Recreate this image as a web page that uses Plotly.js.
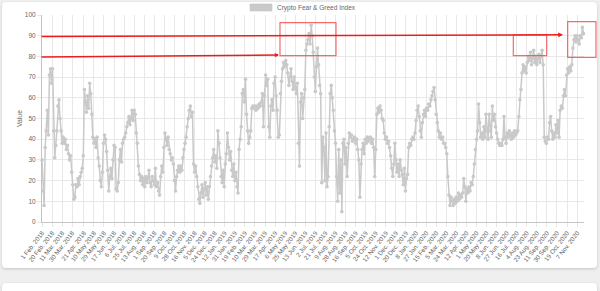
<!DOCTYPE html>
<html>
<head>
<meta charset="utf-8">
<script src="https://cdn.plot.ly/plotly-3.0.1.min.js"></script>
<style>
  html, body { margin:0; padding:0; width:600px; height:291px; overflow:hidden; background:#efefef; }
  .card { position:absolute; left:2px; width:595px; background:#fff; border-radius:4px;
          box-shadow:0 1px 3px rgba(0,0,0,0.18); }
  #card1 { top:2px; height:266px; }
  #card2 { top:283px; height:30px; }
  #chart { position:absolute; left:0; top:0; width:600px; height:291px; }
</style>
</head>
<body>
<div class="card" id="card1"></div>
<div class="card" id="card2"></div>
<div id="chart"></div>
<script>
// ---- data (one reading every 2 days) ----
const seriesName = 'Crypto Fear & Greed Index';
const STEP_DAYS = 2;

const start2018 = '2018-02-01';
const values2018 = [
  30,15,8,36,44,54,42,71,74,67,
  74,44,31,37,44,56,59,50,44,38,
  41,38,40,35,37,33,30,32,24,18,
  11,12,18,17,21,18,22,24,26,32,
  64,58,53,61,55,67,62,52,41,38,
  40,36,41,31,27,20,17,24,38,42,
  40,34,25,15,22,26,21,30,37,36,
  16,15,19,30,35,29,38,40,41,43,
  46,48,51,47,50,54,49,54,52,43,
  38,27,23,20,22,18,21,17,22,19,
  21,25,19,17,22,20,18,26,17,19,
  15,13,22,27,24,36,43,40,37,41,
  35,33,30,31,28,20,15,22,25,27,
  24,27,25,31,35,38,41,46,50,54,
  56,51,53,28,24,27,22,17,11,9,
  14,18,12,16,19,13,17,11,17,22,
  27,31,35,29,32,26,44
];

const start2019 = '2019-01-01';
const values2019 = [
  38,31,22,
  19,25,17,28,33,43,36,30,34,25,
  22,28,20,24,17,14,35,40,46,62,
  64,58,69,52,44,38,41,44,55,56,
  55,56,54,56,55,57,56,58,62,46,
  61,71,66,69,46,41,56,59,54,67,
  70,61,54,41,42,62,68,74,77,75,
  78,76,72,66,70,74,68,64,70,65,
  62,67,38,27,58,62,50,60,64,83,
  86,88,91,86,95,90,82,70,63,75,
  84,76,66,62,19,41,36,20,43,17,
  22,46,62,66,60,54,44,38,22,10,
  35,14,30,5,38,40,28,36,22,38,
  43,41,42,39,40,41,38,40,35,30,
  12,28,35,38,33,40,38,41,39,40,
  41,38,40,36,22,35,52,55,53,56,
  54,50,49,43,40,41,38,39,36,32,
  26,22,28,38,30,24,28,22,30,25,
  23,18,26,15,21,23,36,38,37,40
];

const start2020 = '2020-01-02';
const values2020 = [
  41,40,43,49,54,56,51,44,41,48,
  52,54,51,55,54,57,56,59,61,63,
  65,59,52,48,44,41,43,40,41,38,
  38,36,33,22,13,8,12,10,8,11,
  9,12,10,14,11,13,12,14,21,17,
  10,16,14,17,15,19,18,22,28,35,
  40,44,57,48,41,43,40,46,41,52,
  44,40,52,44,41,56,49,52,46,43,
  40,38,37,38,37,40,51,41,38,43,
  41,44,42,40,43,41,44,42,43,44,
  51,59,64,72,76,73,75,72,77,80,
  78,82,76,79,83,77,80,76,79,81,
  77,80,83,76,41,39,38,41,40,48,
  51,44,40,43,41,47,43,49,41,54,
  56,55,61,64,61,71,74,72,75,73,
  76,84,88,90,87,90,88,86,90,89,
  94,91
];

const tickDates = [
  '2018-02-01','2018-02-20','2018-03-11','2018-03-30','2018-04-21','2018-05-10','2018-05-29',
  '2018-06-17','2018-07-06','2018-07-25','2018-08-13','2018-09-01','2018-09-20','2018-10-09',
  '2018-10-28','2018-11-16','2018-12-05','2018-12-24','2019-01-12','2019-01-31','2019-02-19',
  '2019-03-10','2019-03-29','2019-04-17','2019-05-06','2019-05-25','2019-06-13','2019-07-02',
  '2019-07-21','2019-08-09','2019-08-28','2019-09-16','2019-10-05','2019-10-24','2019-11-12',
  '2019-12-01','2019-12-20','2020-01-08','2020-01-27','2020-02-15','2020-03-05','2020-03-24',
  '2020-04-12','2020-05-01','2020-05-20','2020-06-08','2020-06-27','2020-07-16','2020-08-04',
  '2020-08-23','2020-09-11','2020-09-30','2020-10-19','2020-11-07'
];
const tickLabels = [
  '1 Feb. 2018','20 Feb. 2018','11 Mar. 2018','30 Mar. 2018','21 Apr. 2018','10 May 2018','29 May 2018',
  '17 Jun. 2018','6 Jul. 2018','25 Jul. 2018','13 Aug. 2018','1 Sep. 2018','20 Sep. 2018','9 Oct. 2018',
  '28 Oct. 2018','16 Nov. 2018','5 Dec. 2018','24 Dec. 2018','12 Jan. 2019','31 Jan. 2019','19 Feb. 2019',
  '10 Mar. 2019','29 Mar. 2019','17 Apr. 2019','6 May 2019','25 May 2019','13 Jun. 2019','2 Jul. 2019',
  '21 Jul. 2019','9 Aug. 2019','28 Aug. 2019','16 Sep. 2019','5 Oct. 2019','24 Oct. 2019','12 Nov. 2019',
  '1 Dec. 2019','20 Dec. 2019','8 Jan. 2020','27 Jan. 2020','15 Feb. 2020','5 Mar. 2020','24 Mar. 2020',
  '12 Apr. 2020','1 May 2020','20 May 2020','8 Jun. 2020','27 Jun. 2020','16 Jul. 2020','4 Aug. 2020',
  '23 Aug. 2020','11 Sep. 2020','30 Sep. 2020','19 Oct. 2020','7 Nov. 2020'
];
const xRange = ['2018-02-01', '2020-11-20'];
const yRange = [0, 100];

// ---- build ----
function datesFrom(start, n) {
  const t0 = Date.parse(start + 'T00:00:00Z');
  const out = [];
  for (let k = 0; k < n; k++) out.push(new Date(t0 + k * STEP_DAYS * 86400000).toISOString().slice(0, 10));
  return out;
}
const xs = [].concat(datesFrom(start2018, values2018.length),
                     datesFrom(start2019, values2019.length),
                     datesFrom(start2020, values2020.length));
const ys = [].concat(values2018, values2019, values2020);

const FONT = 'Liberation Sans, Arial, Helvetica, sans-serif';
const GRID = '#e8e8e8';
const AXIS = '#c4c4c4';
const GRAY = '#c9c9c9';
const RED = 'rgb(236,28,28)';
const BOX = 'rgba(240,70,70,0.8)';

const trace = {
  type: 'scatter', mode: 'lines+markers', name: seriesName,
  x: xs, y: ys,
  line: { color: GRAY, width: 1.5 },
  marker: { color: GRAY, size: 3.6 },
  cliponaxis: false, showlegend: false, hoverinfo: 'skip'
};

function box(x0, x1, y0, y1) {
  return { type: 'rect', xref: 'paper', yref: 'paper', x0: x0, x1: x1, y0: y0, y1: y1,
           line: { color: BOX, width: 1.2 }, fillcolor: 'rgba(0,0,0,0)', layer: 'above' };
}

const layout = {
  width: 600, height: 291,
  margin: { l: 42, r: 16, t: 15, b: 69 },
  paper_bgcolor: 'rgba(0,0,0,0)', plot_bgcolor: 'rgba(0,0,0,0)',
  font: { family: FONT, color: '#666', size: 6.5 },
  showlegend: false,
  xaxis: {
    type: 'date', range: xRange, automargin: false,
    tickmode: 'array', tickvals: tickDates, ticktext: tickLabels,
    tickangle: -52, tickfont: { size: 6.3, color: '#666', family: FONT },
    showgrid: true, gridcolor: GRID, gridwidth: 1,
    showline: true, linecolor: AXIS, linewidth: 1,
    ticks: 'outside', ticklen: 4, tickcolor: GRID, zeroline: false, fixedrange: true
  },
  yaxis: {
    range: yRange, tick0: 0, dtick: 10, automargin: false,
    tickfont: { size: 6.5, color: '#666', family: FONT },
    showgrid: true, gridcolor: GRID, gridwidth: 1,
    showline: true, linecolor: AXIS, linewidth: 1,
    ticks: 'outside', ticklen: 4, tickcolor: GRID, zeroline: false, fixedrange: true,
    title: { text: 'Value', font: { size: 6.8, color: '#666', family: FONT }, standoff: 1 }
  },
  shapes: [
    // legend swatch
    { type: 'rect', xref: 'paper', yref: 'paper', x0: 0.3838, x1: 0.4244, y0: 1.0193, y1: 1.0531,
      fillcolor: '#cacaca', line: { color: '#c2c2c2', width: 0.6 } },
    box(0.4391, 0.5424, 0.8034, 0.9628),
    box(0.8696, 0.9312, 0.8034, 0.9034),
    box(0.9699, 1.0221, 0.7957, 0.9676)
  ],
  annotations: [
    { text: seriesName, xref: 'paper', yref: 'paper', x: 0.4299, y: 1.0362,
      xanchor: 'left', yanchor: 'middle', showarrow: false,
      font: { size: 6.5, color: '#666', family: FONT } },
    { text: '', xref: 'paper', yref: 'paper', x: 0.9613, y: 0.9043,
      axref: 'pixel', ayref: 'pixel', ax: -523, ay: 1.7,
      showarrow: true, arrowhead: 2, arrowsize: 0.6, arrowwidth: 1.6, arrowcolor: RED, standoff: 0 },
    { text: '', xref: 'paper', yref: 'paper', x: 0.4373, y: 0.8068,
      axref: 'pixel', ayref: 'pixel', ax: -239, ay: 2,
      showarrow: true, arrowhead: 2, arrowsize: 0.6, arrowwidth: 1.4, arrowcolor: RED, standoff: 0 }
  ]
};

Plotly.newPlot('chart', [trace], layout, { staticPlot: true, displayModeBar: false });
</script>
</body>
</html>
